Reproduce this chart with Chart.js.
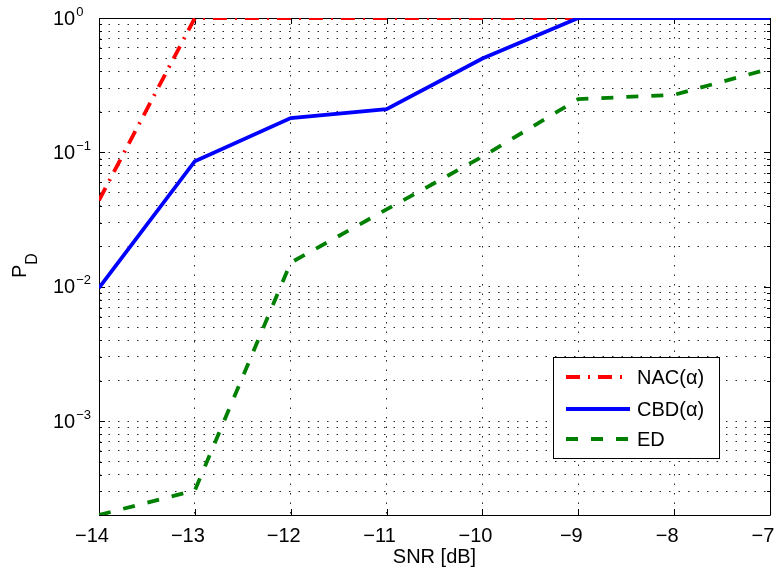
<!DOCTYPE html>
<html>
<head>
<meta charset="utf-8">
<script src="https://cdn.jsdelivr.net/npm/chart.js@4"></script>
<style>
  html, body { margin: 0; padding: 0; background: #fff; }
</style>
</head>
<body>
<canvas id="pd" width="775" height="578"></canvas>
<script>
// data
const snr = [-14, -13, -12, -11, -10, -9, -8, -7];
const nac = [0.044, 1, 1, 1, 1, 1, 1, 1];
const cbd = [0.0098, 0.086, 0.18, 0.21, 0.50, 1, 1, 1];
const ed  = [2.0e-4, 3.05e-4, 0.0151, 0.0376, 0.093, 0.249, 0.268, 0.42];
const seriesNames = ["NAC(α)", "CBD(α)", "ED"];
const decadeExps = [-3, -2, -1, 0];
const yMin = 2e-4, yMax = 1;
const xMin = -14, xMax = -7;

const FONT = "'Liberation Sans', Arial, Helvetica, sans-serif";

// log ticks: 2e-4 .. 1, every 1..9 in each decade
const yTicks = [];
for (let e = -4; e <= 0; e++) {
  for (let m = 1; m <= 9; m++) {
    const v = Number((m * Math.pow(10, e)).toPrecision(3));
    if (v >= yMin && v <= yMax) yTicks.push(v);
  }
}
const isDecade = v => Math.abs(Math.log10(v) - Math.round(Math.log10(v))) < 1e-9;
const pts = arr => snr.map((x, i) => ({ x, y: arr[i] }));
const minus = n => (n < 0 ? "\u2212" + Math.abs(n) : String(n));

const frame = {
  id: "frame",
  beforeDatasetsDraw(chart) {
    const { ctx, chartArea: a, scales: { x, y } } = chart;
    ctx.save();
    ctx.strokeStyle = "#000";
    ctx.lineWidth = 1;
    ctx.beginPath();
    ctx.rect(a.left + 0.5, a.top + 0.5, a.right - a.left, a.bottom - a.top);
    ctx.stroke();
    // inward ticks
    ctx.beginPath();
    for (let v = xMin; v <= xMax; v++) {
      const px = Math.round(x.getPixelForValue(v)) + 0.5;
      ctx.moveTo(px, a.bottom); ctx.lineTo(px, a.bottom - 6);
      ctx.moveTo(px, a.top); ctx.lineTo(px, a.top + 6);
    }
    yTicks.forEach(v => {
      const py = Math.round(y.getPixelForValue(v)) + 0.5;
      const len = isDecade(v) ? 6 : 3;
      ctx.moveTo(a.left, py); ctx.lineTo(a.left + len, py);
      ctx.moveTo(a.right, py); ctx.lineTo(a.right - len, py);
    });
    ctx.stroke();
    ctx.restore();
  },
  afterDraw(chart) {
    const { ctx, chartArea: a, scales: { y } } = chart;
    ctx.save();
    ctx.fillStyle = "#000";
    ctx.textBaseline = "middle";
    ctx.textAlign = "left";
    // y tick labels 10^n
    decadeExps.forEach(e => {
      const py = y.getPixelForValue(Math.pow(10, e));
      ctx.font = "20px " + FONT;
      ctx.fillText("10", 53, py + 1);
      const w = ctx.measureText("10").width;
      ctx.font = "13px " + FONT;
      ctx.fillText(minus(e), 53 + w + 1, py - 6);
    });
    // y title P_D
    ctx.save();
    ctx.translate(20, 278);
    ctx.rotate(-Math.PI / 2);
    ctx.font = "20px " + FONT;
    ctx.fillText("P", 0, 0);
    const pw = ctx.measureText("P").width;
    ctx.font = "16px " + FONT;
    ctx.fillText("D", pw, 13);
    ctx.restore();
    // legend
    const bx = a.right - 217, by = a.bottom - 158, bw = 166, bh = 101;
    ctx.fillStyle = "#fff";
    ctx.fillRect(bx, by, bw, bh);
    ctx.strokeStyle = "#000";
    ctx.lineWidth = 1;
    ctx.strokeRect(bx + 0.5, by + 0.5, bw, bh);
    const rows = [20, 52, 82];
    chart.data.datasets.forEach((ds, i) => {
      const ry = by + rows[i];
      ctx.save();
      ctx.strokeStyle = ds.borderColor;
      ctx.lineWidth = ds.borderWidth;
      ctx.setLineDash(ds.borderDash || []);
      ctx.beginPath();
      ctx.moveTo(bx + 13, ry); ctx.lineTo(bx + 77, ry);
      ctx.stroke();
      ctx.restore();
      ctx.fillStyle = "#000";
      ctx.font = "20px " + FONT;
      ctx.fillText(seriesNames[i], bx + 84, ry + 1);
    });
    ctx.restore();
  }
};

new Chart(document.getElementById("pd"), {
  type: "line",
  data: {
    datasets: [
      { label: seriesNames[0], data: pts(nac), borderColor: "#ff0000", borderWidth: 3.8,
        borderDash: [14, 8, 2, 8], pointRadius: 0, tension: 0, order: 3 },
      { label: seriesNames[1], data: pts(cbd), borderColor: "#0000ff", borderWidth: 3.8,
        pointRadius: 0, tension: 0, order: 2 },
      { label: seriesNames[2], data: pts(ed), borderColor: "#008000", borderWidth: 3.8,
        borderDash: [12, 13], pointRadius: 0, tension: 0, order: 1 }
    ]
  },
  options: {
    responsive: false,
    animation: false,
    devicePixelRatio: 1,
    layout: { padding: { top: 18, right: 5, left: 0, bottom: 0 } },
    plugins: { legend: { display: false }, tooltip: { enabled: false } },
    scales: {
      x: {
        type: "linear", min: xMin, max: xMax,
        afterBuildTicks: s => { s.ticks = snr.map(v => ({ value: v })); },
        afterFit: s => { s.height = 63; s.paddingLeft = 0; s.paddingRight = 0; },
        ticks: {
          color: "#000", font: { family: FONT, size: 20 }, padding: 9, labelOffset: -7,
          maxRotation: 0, autoSkip: false, callback: v => minus(v)
        },
        grid: { color: "rgba(0,0,0,0.85)", lineWidth: 1, drawTicks: false, borderDash: [1.5, 8] },
        border: { display: false, dash: [1.5, 8] },
        title: { display: true, text: "SNR [dB]", color: "#000",
                 font: { family: FONT, size: 20 }, padding: { top: 0, bottom: 9 } }
      },
      y: {
        type: "logarithmic", min: yMin, max: yMax,
        afterBuildTicks: s => { s.ticks = yTicks.map(v => ({ value: v, major: isDecade(v) })); },
        afterFit: s => { s.width = 99; s.paddingTop = 0; s.paddingBottom = 0; },
        ticks: { display: false },
        grid: { color: "rgba(0,0,0,0.85)", lineWidth: 1, drawTicks: false, borderDash: [1.5, 8] },
        border: { display: false, dash: [1.5, 8] }
      }
    }
  },
  plugins: [frame]
});
</script>
</body>
</html>
